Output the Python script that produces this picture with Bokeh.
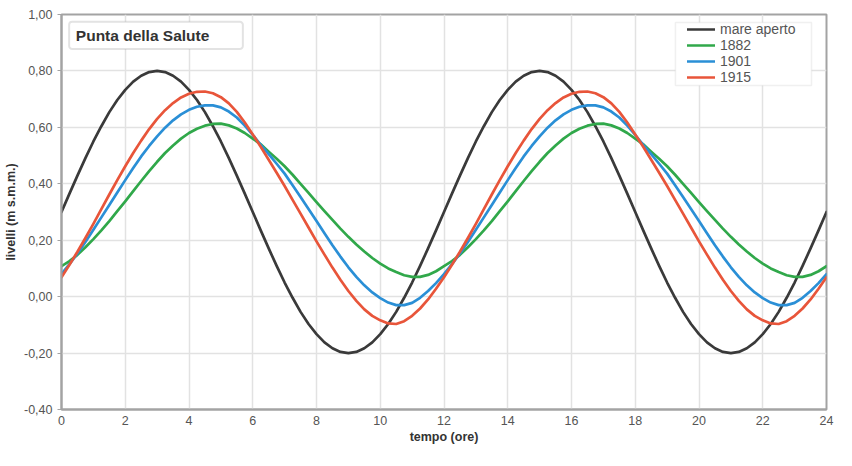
from bokeh.plotting import figure
from bokeh.models import (ColumnDataSource, FixedTicker, Legend, LegendItem,
                          Label, BoxAnnotation, Range1d)
from bokeh.embed import file_html
from bokeh.resources import INLINE

# ---------------- data (every quarter hour) ----------------
hours = [0, 0.25, 0.5, 0.75, 1, 1.25, 1.5, 1.75, 2, 2.25, 2.5, 2.75, 3, 3.25, 3.5, 3.75,
         4, 4.25, 4.5, 4.75, 5, 5.25, 5.5, 5.75, 6, 6.25, 6.5, 6.75, 7, 7.25, 7.5, 7.75,
         8, 8.25, 8.5, 8.75, 9, 9.25, 9.5, 9.75, 10, 10.25, 10.5, 10.75, 11, 11.25, 11.5,
         11.75, 12, 12.25, 12.5, 12.75, 13, 13.25, 13.5, 13.75, 14, 14.25, 14.5, 14.75,
         15, 15.25, 15.5, 15.75, 16, 16.25, 16.5, 16.75, 17, 17.25, 17.5, 17.75, 18,
         18.25, 18.5, 18.75, 19, 19.25, 19.5, 19.75, 20, 20.25, 20.5, 20.75, 21, 21.25,
         21.5, 21.75, 22, 22.25, 22.5, 22.75, 23, 23.25, 23.5, 23.75, 24]

mare_aperto = [0.300, 0.365, 0.429, 0.491, 0.550, 0.604, 0.654, 0.697, 0.733, 0.762, 0.783, 0.796,
               0.800, 0.796, 0.783, 0.762, 0.733, 0.697, 0.654, 0.604, 0.550, 0.491, 0.429, 0.365,
               0.300, 0.235, 0.171, 0.109, 0.050, -0.004, -0.054, -0.097, -0.133, -0.162, -0.183,
               -0.196, -0.200, -0.196, -0.183, -0.162, -0.133, -0.097, -0.054, -0.004, 0.050,
               0.109, 0.171, 0.235, 0.300,
               0.365, 0.429, 0.491, 0.550, 0.604, 0.654, 0.697, 0.733, 0.762, 0.783, 0.796,
               0.800, 0.796, 0.783, 0.762, 0.733, 0.697, 0.654, 0.604, 0.550, 0.491, 0.429, 0.365,
               0.300, 0.235, 0.171, 0.109, 0.050, -0.004, -0.054, -0.097, -0.133, -0.162, -0.183,
               -0.196, -0.200, -0.196, -0.183, -0.162, -0.133, -0.097, -0.054, -0.004, 0.050,
               0.109, 0.171, 0.235, 0.300]

livelli_1882 = [0.108, 0.126, 0.148, 0.175, 0.204, 0.235, 0.268, 0.303, 0.338, 0.374, 0.410, 0.445,
                0.478, 0.509, 0.536, 0.560, 0.580, 0.595, 0.606, 0.612, 0.613, 0.607, 0.596, 0.580,
                0.560, 0.540, 0.514, 0.489, 0.462, 0.432, 0.400, 0.368, 0.335, 0.303, 0.272, 0.241,
                0.212, 0.185, 0.160, 0.137, 0.117, 0.100, 0.087, 0.076, 0.070, 0.070, 0.077, 0.090,
                0.108,
                0.126, 0.148, 0.175, 0.204, 0.235, 0.268, 0.303, 0.338, 0.374, 0.410, 0.445,
                0.478, 0.509, 0.536, 0.560, 0.580, 0.595, 0.606, 0.612, 0.613, 0.607, 0.596, 0.580,
                0.560, 0.540, 0.514, 0.489, 0.462, 0.432, 0.400, 0.368, 0.335, 0.303, 0.272, 0.241,
                0.212, 0.185, 0.160, 0.137, 0.117, 0.100, 0.087, 0.076, 0.070, 0.070, 0.077, 0.090,
                0.108]

livelli_1901 = [0.080, 0.115, 0.153, 0.194, 0.237, 0.281, 0.325, 0.369, 0.413, 0.456, 0.497, 0.534,
                0.568, 0.599, 0.625, 0.646, 0.662, 0.673, 0.678, 0.678, 0.671, 0.656, 0.635, 0.606,
                0.573, 0.538, 0.505, 0.471, 0.436, 0.395, 0.353, 0.311, 0.268, 0.225, 0.182, 0.142,
                0.104, 0.070, 0.040, 0.015, -0.005, -0.021, -0.030, -0.030, -0.022, -0.004, 0.020,
                0.048, 0.080,
                0.115, 0.153, 0.194, 0.237, 0.281, 0.325, 0.369, 0.413, 0.456, 0.497, 0.534,
                0.568, 0.599, 0.625, 0.646, 0.662, 0.673, 0.678, 0.678, 0.671, 0.656, 0.635, 0.606,
                0.573, 0.538, 0.505, 0.471, 0.436, 0.395, 0.353, 0.311, 0.268, 0.225, 0.182, 0.142,
                0.104, 0.070, 0.040, 0.015, -0.005, -0.021, -0.030, -0.030, -0.022, -0.004, 0.020,
                0.048, 0.080]

livelli_1915 = [0.069, 0.113, 0.159, 0.208, 0.258, 0.310, 0.362, 0.413, 0.462, 0.509, 0.553, 0.594,
                0.630, 0.661, 0.686, 0.706, 0.719, 0.726, 0.727, 0.721, 0.707, 0.685, 0.655, 0.617,
                0.575, 0.531, 0.485, 0.439, 0.392, 0.343, 0.294, 0.245, 0.196, 0.149, 0.103, 0.060,
                0.020, -0.015, -0.045, -0.068, -0.084, -0.095, -0.097, -0.087, -0.068, -0.042,
                -0.010, 0.028, 0.069,
                0.113, 0.159, 0.208, 0.258, 0.310, 0.362, 0.413, 0.462, 0.509, 0.553, 0.594,
                0.630, 0.661, 0.686, 0.706, 0.719, 0.726, 0.727, 0.721, 0.707, 0.685, 0.655, 0.617,
                0.575, 0.531, 0.485, 0.439, 0.392, 0.343, 0.294, 0.245, 0.196, 0.149, 0.103, 0.060,
                0.020, -0.015, -0.045, -0.068, -0.084, -0.095, -0.097, -0.087, -0.068, -0.042,
                -0.010, 0.028, 0.069]

series_names = ["mare aperto", "1882", "1901", "1915"]
series_colors = ["#3a3a3a", "#30a84a", "#2a8fd6", "#e8553a"]

x_ticks = [0, 2, 4, 6, 8, 10, 12, 14, 16, 18, 20, 22, 24]
y_ticks = [-0.4, -0.2, 0.0, 0.2, 0.4, 0.6, 0.8, 1.0]
y_tick_labels = ["-0,40", "-0,20", "0,00", "0,20", "0,40", "0,60", "0,80", "1,00"]

title_text = "Punta della Salute"
x_label = "tempo (ore)"
y_label = "livelli (m s.m.m.)"

for s in (mare_aperto, livelli_1882, livelli_1901, livelli_1915):
    if len(s) != len(hours):
        raise ValueError("length mismatch %d vs %d" % (len(s), len(hours)))

# ---------------- figure ----------------
FONT = "Liberation Sans"
GRAY = "#a3a3a3"

p = figure(width=836, height=450, output_backend="svg", toolbar_location=None,
           x_range=Range1d(0, 24), y_range=Range1d(-0.4, 1.0),
           min_border_left=61, min_border_right=10, min_border_top=14,
           min_border_bottom=41)

p.background_fill_color = "white"
p.border_fill_color = "white"
p.outline_line_color = GRAY
p.outline_line_width = 2

p.xaxis.ticker = FixedTicker(ticks=x_ticks)
p.yaxis.ticker = FixedTicker(ticks=y_ticks)
p.yaxis.major_label_overrides = {t: l for t, l in zip(y_ticks, y_tick_labels)}

for ax in (p.xaxis, p.yaxis):
    ax.axis_line_color = GRAY
    ax.axis_line_width = 2
    ax.major_tick_line_color = GRAY
    ax.minor_tick_line_color = None
    ax.major_label_text_font = FONT
    ax.major_label_text_font_size = "12.5px"
    ax.major_label_text_color = "#555555"
    ax.axis_label_text_font = FONT
    ax.axis_label_text_font_size = "12.5px"
    ax.axis_label_text_font_style = "bold"
    ax.axis_label_text_color = "#333333"

p.xaxis.major_tick_out = 0
p.xaxis.major_tick_in = 0
p.xaxis.major_label_standoff = 6
p.xaxis.axis_label_standoff = 2
p.yaxis.major_tick_out = 4
p.yaxis.major_tick_in = 0
p.yaxis.major_label_standoff = 5
p.yaxis.axis_label_standoff = 3
p.xaxis.axis_label = x_label
p.yaxis.axis_label = y_label

p.grid.grid_line_color = "#e2e2e2"
p.grid.grid_line_width = 1.5

src = ColumnDataSource(dict(t=hours, a=mare_aperto, b=livelli_1882,
                            c=livelli_1901, d=livelli_1915))
renderers = []
for col, color in zip(["a", "b", "c", "d"], series_colors):
    r = p.line("t", col, source=src, line_color=color, line_width=2.7,
               line_join="round", line_cap="round")
    renderers.append(r)

# title box
p.add_layout(BoxAnnotation(left=0.24, right=5.69, bottom=0.878, top=0.974,
                           fill_color="white", fill_alpha=1.0,
                           line_color=GRAY, line_width=2, border_radius=3))
p.add_layout(Label(x=0.45, y=0.926, text=title_text, text_baseline="middle",
                   text_font=FONT, text_font_size="15.5px",
                   text_font_style="bold", text_color="#333333"))

# legend box
p.add_layout(BoxAnnotation(left=19.26, right=23.53, bottom=0.748, top=0.972,
                           fill_color="white", fill_alpha=1.0,
                           line_color="#cccccc", line_width=1.5))

legend = Legend(items=[LegendItem(label=n, renderers=[r])
                       for n, r in zip(series_names, renderers)],
                location=(624, 322), padding=2, spacing=0,
                label_height=16, glyph_height=16, glyph_width=28,
                label_standoff=5, border_line_alpha=0,
                background_fill_alpha=0,
                label_text_font=FONT, label_text_font_size="14px",
                label_text_color="#555555")
p.add_layout(legend, "center")

open("out.html", "w").write(file_html(p, INLINE))
